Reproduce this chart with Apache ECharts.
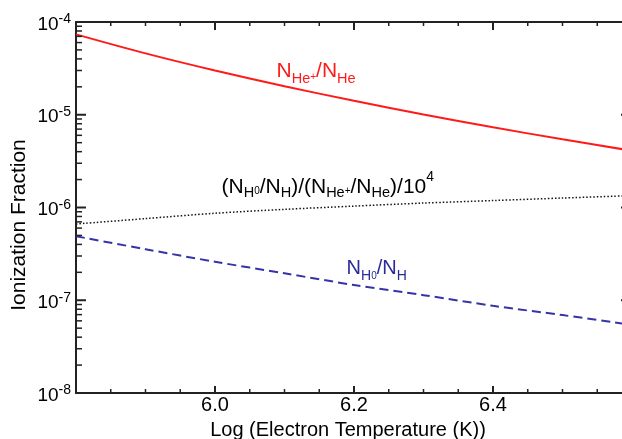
<!DOCTYPE html>
<html><head><meta charset="utf-8">
<script src="https://cdn.jsdelivr.net/npm/echarts@6/dist/echarts.min.js"></script>
<style>html,body{margin:0;padding:0;background:#fff}#c{width:622px;height:439px}</style>
</head><body><div id="c"></div>
<script>
// ---- data ----
const logT = [5.8, 5.9, 6.0, 6.1, 6.2, 6.3, 6.4, 6.5, 6.6];
const heIonFrac = [7.36e-5, 4.59e-5, 3.0e-5, 2.03e-5, 1.413e-5, 1.007e-5, 7.33e-6, 5.43e-6, 4.09e-6];
const ratioFrac = [6.64e-7, 7.59e-7, 8.67e-7, 9.55e-7, 1.035e-6, 1.117e-6, 1.189e-6, 1.265e-6, 1.343e-6];
const hNeutralFrac = [4.9e-7, 3.55e-7, 2.6e-7, 1.95e-7, 1.46e-7, 1.135e-7, 8.71e-8, 6.92e-8, 5.43e-8];
const xTickLabels = ['6.0', '6.2', '6.4'];
const xMajorTicks = [6.0, 6.2, 6.4];
const xMinorTicks = [5.85, 5.9, 5.95, 6.05, 6.1, 6.15, 6.25, 6.3, 6.35, 6.45, 6.5, 6.55];
const yMajorTicks = [1e-8, 1e-7, 1e-6, 1e-5, 1e-4];
const yDecades = [-8, -7, -6, -5];
const yMinorMult = [2, 3, 4, 5, 6, 7, 8, 9];

const X_MIN = 5.8, X_MAX = 6.6, Y_MIN = 1e-8, Y_MAX = 1e-4;
const FF = "'Liberation Sans', Arial, Helvetica, sans-serif";
const AX = '#222';

const yMinorTicks = [];
yDecades.forEach(d => yMinorMult.forEach(m => yMinorTicks.push(m * Math.pow(10, d))));

const chart = echarts.init(document.getElementById('c'), null, {renderer: 'canvas'});

function xAxisCfg(pos) {
  return {
    type: 'value', min: X_MIN, max: X_MAX, interval: 0.2, position: pos,
    axisLine: {show: true, onZero: false, lineStyle: {color: AX, width: 2}},
    axisTick: {show: false}, minorTick: {show: false},
    splitLine: {show: false},
    axisLabel: {
      show: pos === 'bottom', showMinLabel: false, showMaxLabel: false,
      formatter: v => { const s = v.toFixed(1); const k = xTickLabels.indexOf(s); return k >= 0 ? xTickLabels[k] : s; },
      fontSize: 20, fontFamily: FF, color: '#000', margin: 2
    }
  };
}
function yAxisCfg(pos) {
  return {
    type: 'log', logBase: 10, min: Y_MIN, max: Y_MAX, position: pos,
    axisLine: {show: true, onZero: false, lineStyle: {color: AX, width: 2}},
    axisTick: {show: false}, minorTick: {show: false},
    splitLine: {show: false},
    axisLabel: {
      show: pos === 'left', margin: 5, color: '#000',
      formatter: v => '{b|10}{s|' + Math.round(Math.log10(v)) + '}',
      rich: {
        b: {fontSize: 19, fontFamily: FF, color: '#000', padding: [5, 0, 0, 0]},
        s: {fontSize: 14, fontFamily: FF, color: '#000', padding: [0, 0, 5, 0]}
      }
    }
  };
}

function rich(main, subSize, sub, tiny, sup, color) {
  return {
    n: {fontSize: main, fontFamily: FF, fill: color},
    s: {fontSize: subSize, fontFamily: FF, fill: color, padding: [sub, 0, 0, 0]},
    z: {fontSize: 10, fontFamily: FF, fill: color, padding: [tiny, 0, 0, 0]},
    p: {fontSize: 10, fontFamily: FF, fill: color, padding: [tiny, 0, 0, 0]},
    u: {fontSize: 14, fontFamily: FF, fill: color, padding: [0, 0, sup, 0]}
  };
}

const textGraphics = [
  {type: 'text', x: 19, y: 225, rotation: Math.PI / 2,
   style: {text: 'Ionization Fraction', fontSize: 21, fontFamily: FF, fill: '#000', align: 'center', verticalAlign: 'middle'}},
  {type: 'text', x: 348, y: 430,
   style: {text: 'Log (Electron Temperature (K))', fontSize: 20, fontFamily: FF, fill: '#000', align: 'center', verticalAlign: 'middle'}},
  {type: 'text', x: 276.5, y: 71.5,
   style: {text: '{n|N}{s|He}{p|+}{n|/N}{s|He}', fontSize: 21, fontFamily: FF, fill: '#ff1a1a', align: 'left', verticalAlign: 'middle',
           rich: rich(21, 14.5, 14, 12, 0, '#ff1a1a')}},
  {type: 'text', x: 221.5, y: 187.6,
   style: {text: '{n|(N}{s|H}{z|0}{n|/N}{s|H}{n|)/(N}{s|He}{p|+}{n|/N}{s|He}{n|)/10}{u|4}', fontSize: 21, fontFamily: FF, fill: '#000', align: 'left', verticalAlign: 'middle',
           rich: rich(21, 14.5, 11, 8, 20, '#000')}},
  {type: 'text', x: 346.6, y: 268.8,
   style: {text: '{n|N}{s|H}{z|0}{n|/N}{s|H}', fontSize: 20, fontFamily: FF, fill: '#2a2a99', align: 'left', verticalAlign: 'middle',
           rich: rich(20, 14, 14, 14, 0, '#2a2a99')}}
];

const option = {
  backgroundColor: '#fff',
  animation: false,
  grid: {left: 76, top: 22, right: -10, bottom: 46, outerBoundsMode: 'none', containLabel: false},
  xAxis: [xAxisCfg('bottom'), xAxisCfg('top')],
  yAxis: [yAxisCfg('left'), yAxisCfg('right')],
  series: [
    {type: 'line', name: 'He+/He', data: logT.map((t, i) => [t, heIonFrac[i]]), showSymbol: false,
     smooth: 0.3, lineStyle: {color: '#ff1a1a', width: 2}, z: 3},
    {type: 'line', name: 'ratio', data: logT.map((t, i) => [t, ratioFrac[i]]), showSymbol: false,
     smooth: 0.3, lineStyle: {color: '#111', width: 1.5, type: [1.5, 2]}, z: 3},
    {type: 'line', name: 'H0/H', data: logT.map((t, i) => [t, hNeutralFrac[i]]), showSymbol: false,
     smooth: 0.3, lineStyle: {color: '#3434a8', width: 2, type: [9, 5]}, z: 3}
  ],
  graphic: textGraphics
};
chart.setOption(option);

// Tick marks placed through the chart's own scales (convertToPixel)
try {
  const ticks = [];
  const px = (x, y) => chart.convertToPixel({gridIndex: 0}, [x, y]);
  const seg = (p, dx, dy, w) => ticks.push({type: 'line', z: 100, silent: true,
    shape: {x1: p[0], y1: p[1], x2: p[0] + dx, y2: p[1] + dy}, style: {stroke: AX, lineWidth: w}});
  yMajorTicks.forEach(v => { seg(px(X_MIN, v), 10, 0, 2); seg(px(X_MAX, v), -11, 0, 2); });
  yMinorTicks.forEach(v => { seg(px(X_MIN, v), 6, 0, 1.5); seg(px(X_MAX, v), -6, 0, 1.5); });
  xMajorTicks.forEach(v => { seg(px(v, Y_MIN), 0, -7, 2); seg(px(v, Y_MAX), 0, 8, 2); });
  xMinorTicks.forEach(v => { seg(px(v, Y_MIN), 0, -4, 1.5); seg(px(v, Y_MAX), 0, 4, 1.5); });
  chart.setOption({graphic: textGraphics.concat(ticks)});
} catch (e) {
  const t = {show: true, inside: true, length: 8, lineStyle: {color: AX, width: 2}};
  chart.setOption({xAxis: [{axisTick: t}, {axisTick: t}], yAxis: [{axisTick: t}, {axisTick: t}]});
}
</script></body></html>
